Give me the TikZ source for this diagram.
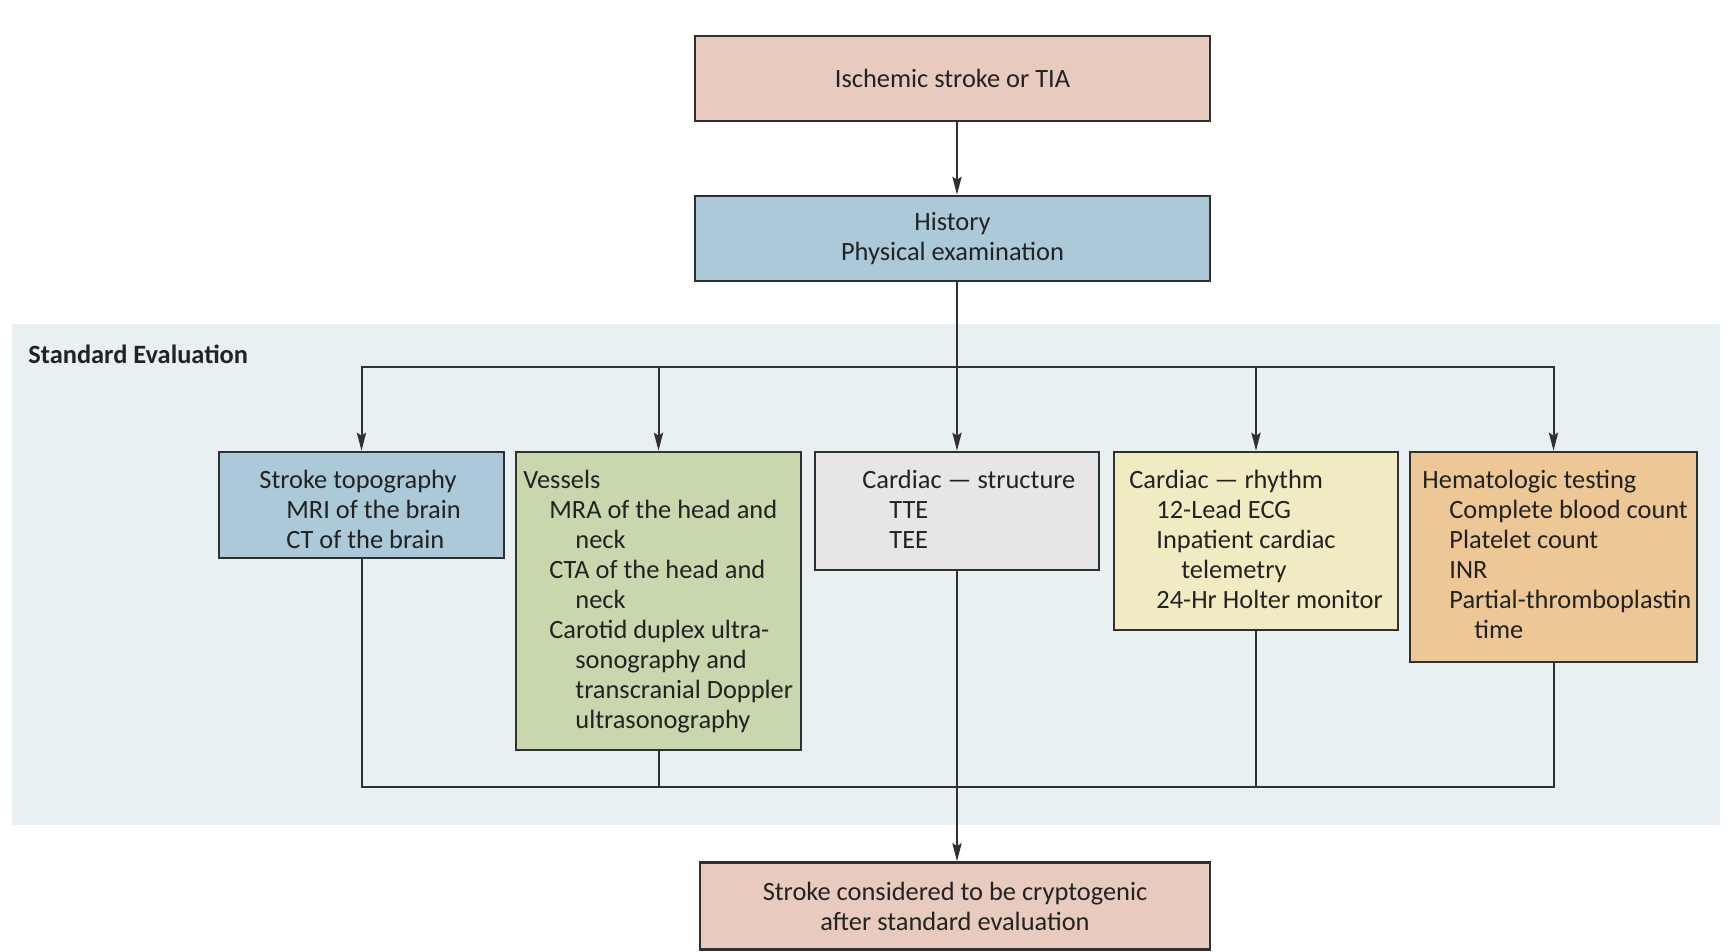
\documentclass[tikz,border=0pt]{standalone}
\usepackage{fontspec}
\setmainfont{Carlito}
\usetikzlibrary{arrows.meta}
\definecolor{panelc}{HTML}{E8F0F4}
\definecolor{pinkc}{HTML}{E8CBBE}
\definecolor{bluec}{HTML}{ABC9D9}
\definecolor{greenc}{HTML}{C9D7AF}
\definecolor{greyc}{HTML}{E6E6E6}
\definecolor{yellowc}{HTML}{F1EBC3}
\definecolor{orangec}{HTML}{EDC795}
\definecolor{linec}{HTML}{303030}
\definecolor{textc}{HTML}{222222}
\begin{document}
\begin{tikzpicture}[x={(0.5pt,0)}, y={(0,-0.5pt)},
  font=\fontsize{13.2}{15}\selectfont, text=textc,
  box/.style={draw=linec, line width=1.3pt, rectangle, inner sep=0pt},
  txt/.style={inner sep=0pt, align=left, anchor=north west},
  ln/.style={draw=linec, line width=1pt},
  arr/.style={ln, -{Stealth[length=9pt,width=4.6pt,inset=1.5pt]}}]
\useasboundingbox (0,0) rectangle (1729,952);
% shaded panel for the standard work-up
\fill[panelc] (12,324) rectangle (1720,825);
\node[inner sep=0pt, anchor=west] (stdeval) at (28,354) {\bfseries Standard Evaluation};

% top and bottom boxes
\node[box, fill=pinkc, minimum width=257.5pt, minimum height=42.5pt, align=center] (start) at (952.5,78.5) {Ischemic stroke or TIA};
\node[box, fill=bluec, minimum width=257.5pt, minimum height=42.5pt, align=center] (hist) at (952.5,238.5) {History\\Physical examination};
\node[box, fill=pinkc, minimum width=255pt, minimum height=43.5pt, align=center] (final) at (955,906) {Stroke considered to be cryptogenic\\after standard evaluation};

% evaluation boxes
\node[box, fill=bluec, minimum width=142.5pt, minimum height=53pt] (b1) at (361.5,505) {};
\node[box, fill=greenc, minimum width=142.5pt, minimum height=149pt] (b2) at (658.5,601) {};
\node[box, fill=greyc, minimum width=142pt, minimum height=59pt] (b3) at (957,511) {};
\node[box, fill=yellowc, minimum width=142pt, minimum height=89pt] (b4) at (1256,541) {};
\node[box, fill=orangec, minimum width=143.5pt, minimum height=105pt] (b5) at (1553.5,557) {};

\node[txt] (t1) at (259,470) {Stroke topography\\\hspace*{13.5pt}MRI of the brain\\\hspace*{13.5pt}CT of the brain};
\node[txt] (t2) at (523,470) {Vessels\\\hspace*{13pt}MRA of the head and\\\hspace*{26pt}neck\\\hspace*{13pt}CTA of the head and\\\hspace*{26pt}neck\\\hspace*{13pt}Carotid duplex ultra-\\\hspace*{26pt}sonography and\\\hspace*{26pt}transcranial Doppler\\\hspace*{26pt}ultrasonography};
\node[txt] (t3) at (862,470) {Cardiac --- structure\\\hspace*{13.5pt}TTE\\\hspace*{13.5pt}TEE};
\node[txt] (t4) at (1129,470) {Cardiac --- rhythm\\\hspace*{13.5pt}12-Lead ECG\\\hspace*{13.5pt}Inpatient cardiac\\\hspace*{26pt}telemetry\\\hspace*{13.5pt}24-Hr Holter monitor};
\node[txt] (t5) at (1422,470) {Hematologic testing\\\hspace*{13.5pt}Complete blood count\\\hspace*{13.5pt}Platelet count\\\hspace*{13.5pt}INR\\\hspace*{13.5pt}Partial-thromboplastin\\\hspace*{26pt}time};

% connectors, all on the vertical through the split point
\coordinate (split) at (957,367);
\coordinate (merge) at (957,787);
\draw[arr] (start.south -| split) -- (hist.north -| split);
\draw[ln] (hist.south -| split) -- (split);
\draw[ln, line cap=rect] (split -| b1.north) -- (split -| b5.north);
\foreach \b in {b1,b2,b3,b4,b5}
  \draw[arr] (split -| \b.north) -- (\b.north);
\foreach \b in {b1,b2,b3,b4,b5}
  \draw[ln] (\b.south) -- (merge -| \b.south);
\draw[ln, line cap=rect] (merge -| b1.south) -- (merge -| b5.south);
\draw[arr] (merge) -- (merge |- final.north);
\end{tikzpicture}
\end{document}
